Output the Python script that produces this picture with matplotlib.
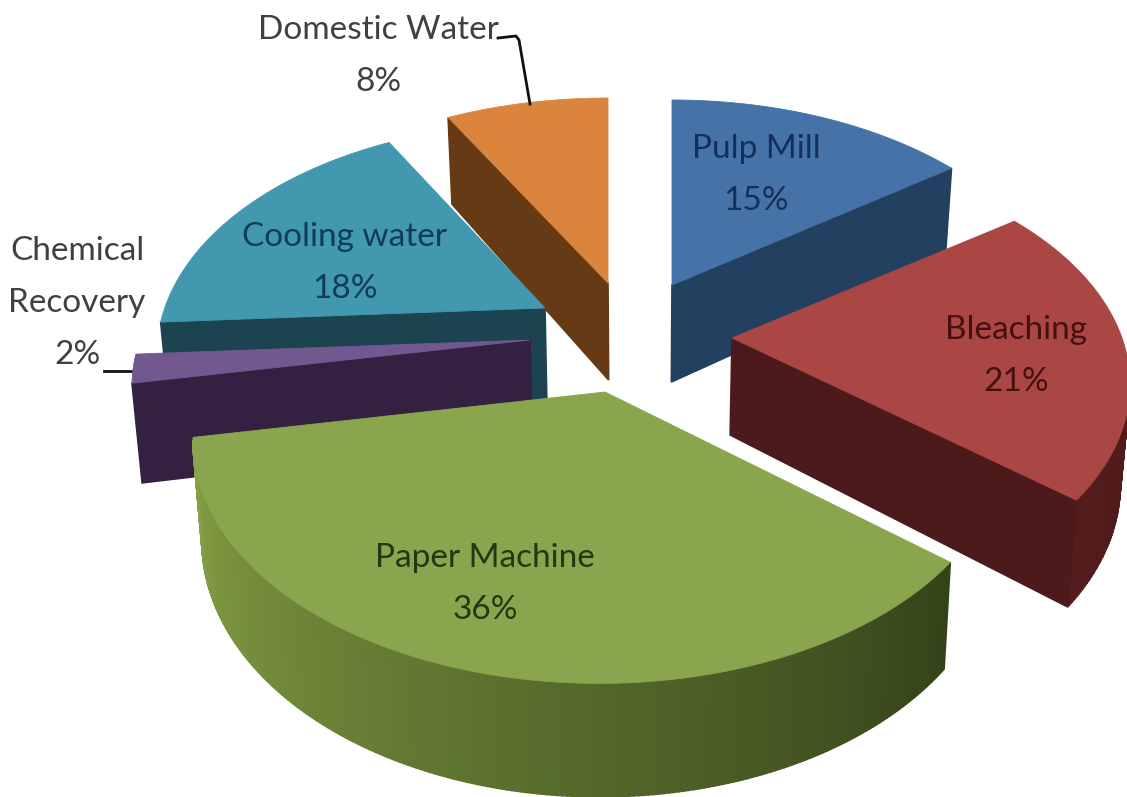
import numpy as np
import matplotlib
matplotlib.use("Agg")
import matplotlib.pyplot as plt
from matplotlib.colors import to_rgb

# Water use by mill section, percent of total (clockwise from 12 o'clock)
sections = ["Pulp Mill", "Bleaching", "Paper Machine", "Chemical\nRecovery", "Cooling water", "Domestic Water"]
shares = [15, 21, 36, 2, 18, 8]

top_colors = ["#4573a7", "#aa4644", "#89a54e", "#71588f", "#4298af", "#db843d"]
side_colors = ["#244061", "#4c1a1a", "#3c4a1e", "#342040", "#1b4450", "#653a15"]
rim_start = ["#244061", "#4a1818", "#344219", "#342040", "#1b4450", "#653a15"]
rim_end = ["#244061", "#541c1c", "#86a245", "#342040", "#1b4450", "#653a15"]
text_colors = ["#14305a", "#45100f", "#1f3a10", "#404040", "#0f3c58", "#404040"]

# Layout in pixels: the exploded position of each slice's apex, its arc offset and radius trim
apex_x = [672, 732, 605, 530, 545, 608]
apex_y = [285, 338, 392, 340, 308, 283]
arc_shift = [0, 0, -6, 0, 0, 0]
trim_x = [0.99, 1.0, 1.02, 1.0, 0.975, 1.0]
trim_y = [1.0, 1.0, 1.05, 1.0, 1.0, 1.0]
label_x = [756, 1016, 485, 77, 345, 378]
label_y = [175, 356, 584, 303, 263, 56]
draw_order = [5, 4, 0, 1, 3, 2]

RX, RY, PERSPECTIVE, DEPTH = 390, 222, 0.2, 97
VANISH_X, CONVERGE = 640, 0.02

W, H = 1127, 797
fig = plt.figure(figsize=(W / 100, H / 100), dpi=100, facecolor="white")
ax = fig.add_axes([0, 0, 1, 1])
ax.set_xlim(0, W)
ax.set_ylim(H, 0)
ax.axis("off")


def project(i, theta):
    """Map a clockwise angle on the tilted disc to screen pixels; returns x, y, scale."""
    u, v = np.sin(theta), -np.cos(theta)
    s = 1 / (1 - PERSPECTIVE * v)
    x = apex_x[i] + arc_shift[i] + RX * trim_x[i] * u * s
    y = apex_y[i] + RY * trim_y[i] * v * s
    return x, y, s


def mix(a, b, f):
    a, b = np.array(to_rgb(a)), np.array(to_rgb(b))
    return tuple(a + (b - a) * f)


def lower(x):
    """Walls lean slightly inward as they drop, towards the vanishing column."""
    return x + (VANISH_X - x) * CONVERGE


edges = np.cumsum([0] + shares) / sum(shares) * 2 * np.pi

for i in draw_order:
    cx, cy = apex_x[i], apex_y[i]
    theta = np.linspace(edges[i], edges[i + 1], max(int(shares[i] * 6), 6))
    arc_x, arc_y, arc_s = project(i, theta)
    # Boundary of the top face, walked clockwise on screen
    xs = np.r_[cx, arc_x, cx]
    ys = np.r_[cy, arc_y, cy]
    ss = np.r_[1.0, arc_s, 1.0]
    drop = DEPTH * ss ** 0.7
    n = len(xs) - 1
    layer = draw_order.index(i) * 2
    for j in range(n):
        if xs[j + 1] >= xs[j]:
            continue  # this wall faces away from the viewer
        if j == 0 or j == n - 1:
            col = side_colors[i]
        else:
            col = mix(rim_start[i], rim_end[i], (j - 1) / max(n - 3, 1))
        ax.fill([xs[j], xs[j + 1], lower(xs[j + 1]), lower(xs[j])],
                [ys[j], ys[j + 1], ys[j + 1] + drop[j + 1], ys[j] + drop[j]],
                facecolor=col, edgecolor=col, lw=1.2, zorder=layer + 1)
    ax.fill(xs, ys, facecolor=top_colors[i], edgecolor=top_colors[i], lw=0.6, zorder=layer + 2)

# Leader lines for the two labels that sit outside their slices
ax.plot([498, 516, 519, 530], [38, 36, 40, 104], color="#111111", lw=2, zorder=20,
        solid_joinstyle="round")
ax.plot([104, 134], [371, 371], color="#111111", lw=2, zorder=2)

for name, share, x, y, c in zip(sections, shares, label_x, label_y, text_colors):
    ax.text(x, y, f"{name}\n{share}%", ha="center", va="center", color=c, fontsize=24,
            family="Lato", linespacing=1.93, zorder=30)

fig.savefig("out.png", dpi=100, facecolor="white")
